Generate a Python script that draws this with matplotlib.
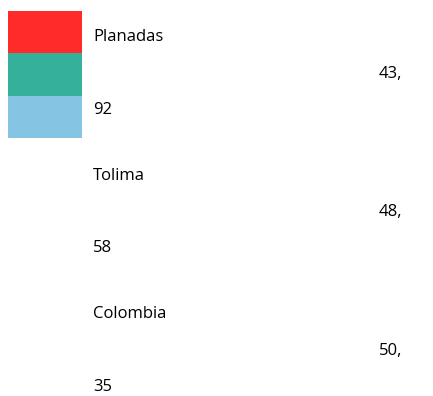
import matplotlib.pyplot as plt

# datos
categorias = ['Planadas', 'Tolima', 'Colombia']
valores = ['43,92', '48,58', '50,35']
colores = ['#FF2A2A', '#35B09A', '#85C4E2']

W, H = 433, 396
fig = plt.figure(figsize=(W / 100, H / 100), dpi=100)
ax = fig.add_axes([0, 0, 1, 1])
ax.set_xlim(0, W)
ax.set_ylim(H, 0)
ax.axis('off')

# swatches
top = 11
alto = 42.3
for i, c in enumerate(colores):
    ax.bar(8, alto, width=74, bottom=top + i * alto, color=c, align='edge')

# texto partido como en el original (linea base)
fs = 12
fam = ['Open Sans', 'DejaVu Sans']
for i, (cat, val) in enumerate(zip(categorias, valores)):
    y0 = 41 + i * 138.5
    entero, dec = val.split(',')
    ax.text(93, y0, cat, fontsize=fs, family=fam, va='baseline', ha='left')
    ax.text(402, y0 + 37, entero + ',', fontsize=fs, family=fam, va='baseline', ha='right')
    ax.text(93, y0 + 73, dec, fontsize=fs, family=fam, va='baseline', ha='left')

fig.savefig('out.png', dpi=100)
